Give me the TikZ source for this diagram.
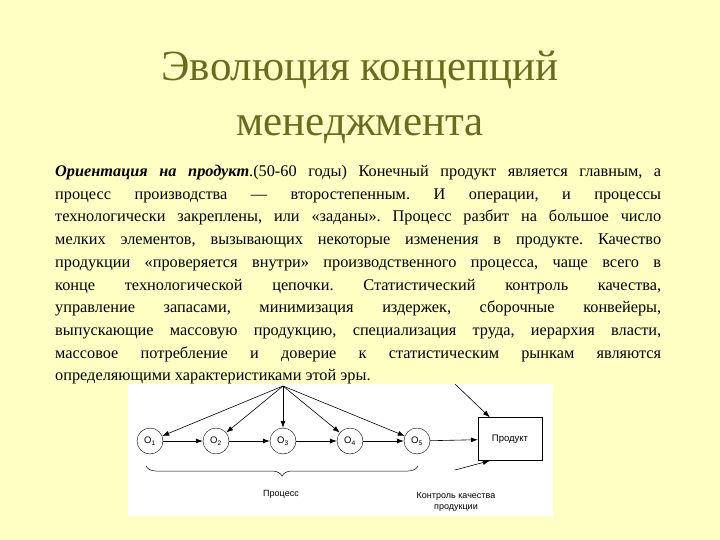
\documentclass[tikz,border=0pt]{standalone}
\usepackage{fontspec}
\setmainfont{Liberation Serif}
\setsansfont{Liberation Sans}
\usetikzlibrary{decorations.pathreplacing,arrows.meta,calc}
\definecolor{bg}{HTML}{FFFFC4}
\definecolor{ttl}{HTML}{6B6B20}
\frenchspacing
\begin{document}
\begin{tikzpicture}[x=1pt,y=-1pt,
 op/.style={draw,circle,minimum size=26pt,inner sep=0pt,font=\sffamily\fontsize{9.5}{10}\selectfont},
 arr/.style={-{Latex[length=7pt,width=5pt]},line width=0.6pt},
 lbl/.style={font=\sffamily\fontsize{9}{11}\selectfont,align=center}]
\fill[bg] (0,0) rectangle (720,540);
\useasboundingbox (0,0) rectangle (720,540);
\node[ttl,align=center,font=\fontsize{43}{55}\selectfont] (title) at (360,97) {Эволюция концепций\\менеджмента};
\node[anchor=north west,inner sep=0pt,text width=606pt,align=justify,font=\fontsize{16.3}{22.7}\selectfont] (body) at (55,165)
{\textbf{\textit{Ориентация на продукт}}.(50-60 годы) Конечный продукт является главным, а\linebreak
процесс производства — второстепенным. И операции, и процессы\linebreak
технологически закреплены, или «заданы». Процесс разбит на большое число\linebreak
мелких элементов, вызывающих некоторые изменения в продукте. Качество\linebreak
продукции «проверяется внутри» производственного процесса, чаще всего в\linebreak
конце технологической цепочки. Статистический контроль качества,\linebreak
управление запасами, минимизация издержек, сборочные конвейеры,\linebreak
выпускающие массовую продукцию, специализация труда, иерархия власти,\linebreak
массовое потребление и доверие к статистическим рынкам являются\linebreak
определяющими характеристиками этой эры.\par};
\fill[white] (128,384) rectangle (553,516);
\coordinate (src) at (283,386);
\coordinate (in) at (455,384);
\coordinate (qc) at (455,470);
\node[op] (o1) at (150,441) {O\textsubscript{1}};
\node[op] (o2) at (216,441) {O\textsubscript{2}};
\node[op] (o3) at (283,441) {O\textsubscript{3}};
\node[op] (o4) at (350,441) {O\textsubscript{4}};
\node[op] (o5) at (417,441) {O\textsubscript{5}};
\node[draw,minimum width=64pt,minimum height=43pt,inner sep=0pt,font=\sffamily\fontsize{9.5}{10}\selectfont] (p) at (510,439) {Продукт};
\coordinate (pin) at ($(p.south west)+(12,0)$);
\coordinate (pnw) at ($(p.north west)+(12,0)$);
\foreach \o in {o1,o2,o3,o4,o5} \draw[arr] (src) -- (\o);
\draw[arr] (o1) -- (o2); \draw[arr] (o2) -- (o3); \draw[arr] (o3) -- (o4); \draw[arr] (o4) -- (o5); \draw[arr] (o5) -- (p);
\draw[arr] (in) -- (pnw);
\draw[arr] (qc) -- (pin);
\draw[line width=0.5pt,decorate,decoration={brace,amplitude=10pt,mirror}] (146,466) -- (418,466);
\node[lbl] (proc) at (281,494) {Процесс};
\node[lbl] (qctext) at (456,502) {Контроль качества\\продукции};
\end{tikzpicture}
\end{document}
